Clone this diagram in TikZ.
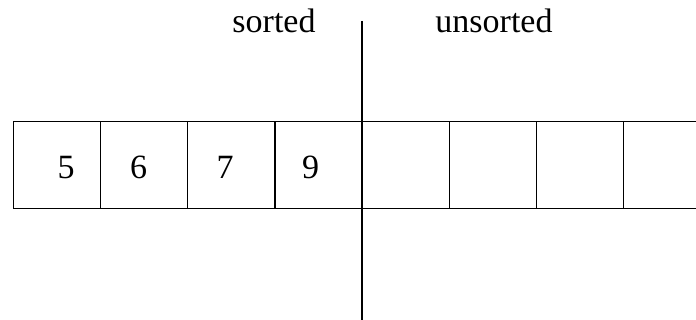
\documentclass[tikz,border=0pt]{standalone}
\usepackage{fontspec}
\setmainfont{Liberation Serif}
\begin{document}
\begin{tikzpicture}[x=1pt,y=-1pt,
  cell/.style={draw,line width=1.2pt,minimum width=87.1pt,minimum height=86.7pt,inner sep=0pt,anchor=north west},
  digit/.style={font=\fontsize{34}{40}\selectfont,anchor=base,inner sep=0pt},
  lbl/.style={font=\fontsize{34}{40}\selectfont,anchor=base,inner sep=0pt}]
\useasboundingbox (0,0) rectangle (696,320);
\foreach \i/\x in {1/13,2/100.1,3/187.2,4/274.3,5/361.4,6/448.5,7/535.6,8/622.7}{
  \node[cell] (c\i) at (\x,121) {};
}
\node[digit] (d1) at (66,179) {5};
\node[digit] (d2) at (138.5,179) {6};
\node[digit] (d3) at (225,179) {7};
\node[digit] (d4) at (310.5,179) {9};
\node[lbl] (sorted) at (274,33) {sorted};
\node[lbl] (unsorted) at (494,33) {unsorted};
\coordinate (top) at (362,21);
\coordinate (bot) at (362,320);
\draw[line width=1.2pt] (top) -- (bot);
\end{tikzpicture}
\end{document}
